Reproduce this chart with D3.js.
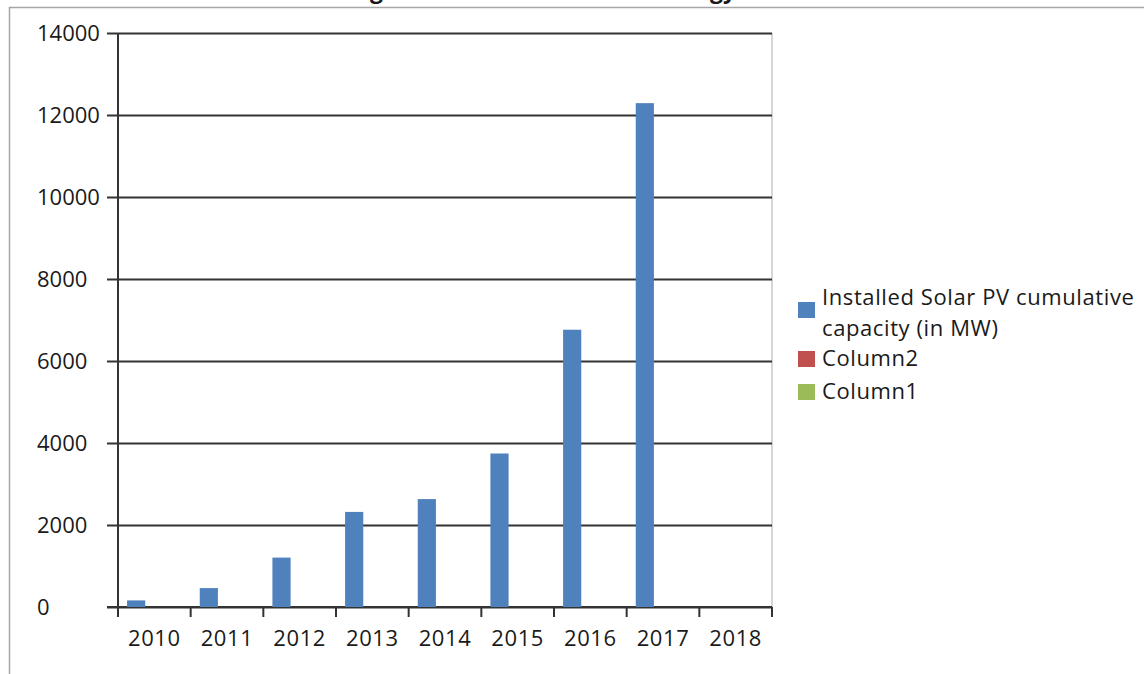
<!DOCTYPE html>
<html>
<head>
<meta charset="utf-8">
<script src="https://cdn.jsdelivr.net/npm/d3@7/dist/d3.min.js"></script>
<style>
  body { margin: 0; background: #fff; }
  svg text { font-family: "Open Sans", sans-serif; fill: #1a1a1a; }
</style>
</head>
<body>
<div id="vis"></div>
<script>
// data
var years = ['2010', '2011', '2012', '2013', '2014', '2015', '2016', '2017', '2018'];
var seriesNames = ['Installed Solar PV cumulative capacity (in MW)', 'Column2', 'Column1'];
var solarCapacity = [161, 461, 1205, 2319, 2632, 3744, 6763, 12289, null];
var column2 = [null, null, null, null, null, null, null, null, null];
var column1 = [null, null, null, null, null, null, null, null, null];
var yTicks = [0, 2000, 4000, 6000, 8000, 10000, 12000, 14000];
var titleText = 'Year wise growth of Installed Solar Energy';

var width = 1144;
var height = 674;

// plot area
var plot = { left: 118, right: 772, top: 33, bottom: 607 };

var colours = d3.scaleOrdinal()
  .domain(seriesNames)
  .range(['#4f81bd', '#c0504d', '#9bbb59']);

var svg = d3.select('#vis')
  .append('svg')
  .attr('width', width)
  .attr('height', height);

// outer chart border (only top and left edges are in the shot)
svg.append('rect')
  .attr('x', 9.5)
  .attr('y', 7.5)
  .attr('width', 1200)
  .attr('height', 800)
  .attr('fill', 'none')
  .attr('stroke', '#a6a6a6')
  .attr('stroke-width', 1.5);

// title, mostly cut off by the top edge like in the shot
var title = svg.append('text')
  .attr('y', -2)
  .style('font-weight', 'bold')
  .style('font-size', '23px')
  .text(titleText);
// put the "g" of "growth" at about x = 370
var gIndex = titleText.indexOf('growth');
var before = gIndex > 0 ? title.node().getSubStringLength(0, gIndex) : 0;
title.attr('x', 370 - before);

var x0 = d3.scaleBand()
  .domain(years)
  .range([plot.left, plot.right]);

var x1 = d3.scaleBand()
  .domain(seriesNames)
  .range([0, x0.bandwidth()])
  .paddingOuter(0.5);

var y = d3.scaleLinear()
  .domain([0, 14000])
  .range([plot.bottom, plot.top]);

// plot area right edge
svg.append('line')
  .attr('x1', plot.right).attr('x2', plot.right)
  .attr('y1', plot.top).attr('y2', plot.bottom)
  .attr('stroke', '#c8c8c8')
  .attr('stroke-width', 1.5);

// gridlines
var grid = svg.append('g')
  .attr('transform', 'translate(' + plot.left + ',0)')
  .call(d3.axisRight(y)
    .tickValues(yTicks)
    .tickSize(plot.right - plot.left)
    .tickFormat(''));
grid.select('.domain').remove();
grid.selectAll('line')
  .attr('stroke', '#333')
  .attr('stroke-width', 2);

// y axis with ticks and labels
var yAxis = svg.append('g')
  .attr('transform', 'translate(' + plot.left + ',0)')
  .call(d3.axisLeft(y)
    .tickValues(yTicks)
    .tickSize(11)
    .tickSizeOuter(0)
    .tickFormat(d3.format('d')));
yAxis.select('.domain')
  .attr('d', 'M0,' + plot.top + 'V' + (plot.bottom + 10))
  .attr('stroke', '#333')
  .attr('stroke-width', 2);
yAxis.selectAll('.tick line')
  .attr('stroke', '#333')
  .attr('stroke-width', 2);
yAxis.selectAll('.tick text')
  .attr('x', 37 - plot.left)
  .attr('text-anchor', 'start')
  .attr('dy', '0.36em')
  .style('font-size', '22px')
  .style('font-family', '"Open Sans", sans-serif')
  .attr('fill', '#1a1a1a');

// x axis
var xAxis = svg.append('g')
  .attr('transform', 'translate(0,' + plot.bottom + ')')
  .call(d3.axisBottom(x0).tickSize(0).tickSizeOuter(0));
xAxis.select('.domain')
  .attr('d', 'M' + (plot.left - 11) + ',0H' + plot.right)
  .attr('stroke', '#333')
  .attr('stroke-width', 2);
xAxis.selectAll('.tick text')
  .attr('y', 0)
  .attr('dy', '39px')
  .style('font-size', '22px')
  .style('letter-spacing', '0.6px')
  .style('font-family', '"Open Sans", sans-serif')
  .attr('fill', '#1a1a1a');

// category boundary ticks
var bounds = years.map(function (d) { return x0(d); }).concat([plot.right]);
svg.append('g')
  .selectAll('line')
  .data(bounds)
  .enter()
  .append('line')
  .attr('x1', d => d).attr('x2', d => d)
  .attr('y1', plot.bottom).attr('y2', plot.bottom + 10)
  .attr('stroke', '#333')
  .attr('stroke-width', 2);

// bars
var rows = years.map(function (yr, i) {
  return { year: yr, values: [solarCapacity[i], column2[i], column1[i]] };
});

var groups = svg.append('g')
  .selectAll('g')
  .data(rows)
  .enter()
  .append('g')
  .attr('transform', d => 'translate(' + x0(d.year) + ',0)');

groups.selectAll('rect')
  .data(function (d) {
    return seriesNames.map(function (s, j) { return { name: s, value: d.values[j] }; })
      .filter(function (v) { return v.value != null; });
  })
  .enter()
  .append('rect')
  .attr('x', d => x1(d.name))
  .attr('width', x1.bandwidth())
  .attr('y', d => y(d.value))
  .attr('height', d => y(0) - y(d.value))
  .attr('fill', d => colours(d.name));

// legend
var legendItems = [
  { name: seriesNames[0], lines: ['Installed Solar PV cumulative', 'capacity (in MW)'], box: 302, text: 305 },
  { name: seriesNames[1], lines: ['Column2'], box: 351, text: 366 },
  { name: seriesNames[2], lines: ['Column1'], box: 384, text: 399 }
];

var legend = svg.append('g');
var item = legend.selectAll('g')
  .data(legendItems)
  .enter()
  .append('g');

item.append('rect')
  .attr('x', 798)
  .attr('y', d => d.box)
  .attr('width', 17)
  .attr('height', 16)
  .attr('fill', d => colours(d.name));

item.append('text')
  .attr('x', 822)
  .attr('y', d => d.text)
  .style('font-size', '22px')
  .style('letter-spacing', '0.6px')
  .selectAll('tspan')
  .data(d => d.lines)
  .enter()
  .append('tspan')
  .attr('x', 822)
  .attr('dy', (d, i) => i === 0 ? 0 : 31)
  .text(d => d);
</script>
</body>
</html>
